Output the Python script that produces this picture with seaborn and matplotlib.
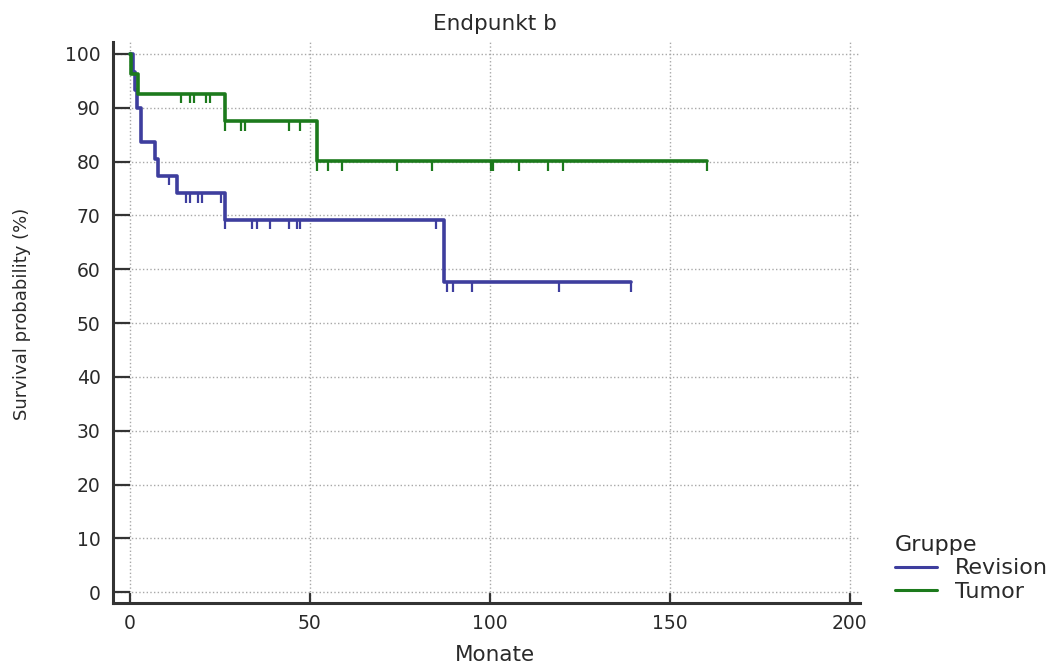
import numpy as np
import pandas as pd
import matplotlib
matplotlib.use("Agg")
import matplotlib.pyplot as plt
from matplotlib.lines import Line2D
import seaborn as sns

# Kaplan-Meier step curves (months, survival %)
rev_time = [0, 0.8, 1.3, 2.1, 3.0, 6.9, 7.9, 13.0, 26.4, 87.2, 139.1]
rev_surv = [100, 96.7, 93.3, 90.0, 83.7, 80.5, 77.4, 74.1, 69.2, 57.6, 57.6]
tum_time = [0, 0.2, 2.2, 26.4, 51.9, 160.2]
tum_surv = [100, 96.3, 92.6, 87.5, 80.1, 80.1]

# censored observations (months, survival level)
rev_cens_time = [10.9, 15.7, 16.8, 19.0, 19.9, 25.3, 26.4, 34.0, 35.2, 38.9,
                 44.2, 46.3, 47.2, 85.0, 88.2, 89.8, 95.1, 119.3, 139.1]
rev_cens_surv = [77.4, 74.1, 74.1, 74.1, 74.1, 74.1, 69.2, 69.2, 69.2, 69.2,
                 69.2, 69.2, 69.2, 69.2, 57.6, 57.6, 57.6, 57.6, 57.6]
tum_cens_time = [14.2, 16.7, 17.9, 21.1, 22.2, 26.4, 30.8, 32.0, 44.2, 47.2,
                 52.0, 55.1, 59.0, 74.1, 84.0, 100.3, 100.8, 108.2, 116.2, 120.2, 160.2]
tum_cens_surv = [92.6, 92.6, 92.6, 92.6, 92.6, 87.5, 87.5, 87.5, 87.5, 87.5,
                 80.1, 80.1, 80.1, 80.1, 80.1, 80.1, 80.1, 80.1, 80.1, 80.1, 80.1]

groups = ["Revision", "Tumor"]
colors = {"Revision": "#3e3e9e", "Tumor": "#1c7a1c"}

curves = pd.concat([
    pd.DataFrame({"Monate": rev_time, "Survival": rev_surv, "Gruppe": "Revision"}),
    pd.DataFrame({"Monate": tum_time, "Survival": tum_surv, "Gruppe": "Tumor"}),
], ignore_index=True)
censored = pd.concat([
    pd.DataFrame({"Monate": rev_cens_time, "Survival": rev_cens_surv, "Gruppe": "Revision"}),
    pd.DataFrame({"Monate": tum_cens_time, "Survival": tum_cens_surv, "Gruppe": "Tumor"}),
], ignore_index=True)

sns.set_theme(style="white")
plt.rcParams["font.family"] = ["DejaVu Sans"]
txt = "#2a2a2a"

fig = plt.figure(figsize=(10.54, 6.64), dpi=100)
ax = fig.add_axes([113 / 1054, 61 / 664, 747 / 1054, 561 / 664])

ax.grid(True, linestyle=":", color="#a8a8a8", linewidth=1.0)
ax.set_axisbelow(True)

sns.lineplot(data=curves, x="Monate", y="Survival", hue="Gruppe", palette=colors,
             estimator=None, sort=False, drawstyle="steps-post", linewidth=2.6,
             legend=False, ax=ax)
sns.scatterplot(data=censored, x="Monate", y="Survival", hue="Gruppe", palette=colors,
                marker=3, s=49, linewidth=1.6, legend=False, ax=ax)

ax.set_xlim(-4.7, 202.8)
ax.set_ylim(-2.0, 102.2)
ax.set_xticks(np.arange(0, 201, 50))
ax.set_yticks(np.arange(0, 101, 10))

for side in ["top", "right"]:
    ax.spines[side].set_visible(False)
for side in ["left", "bottom"]:
    ax.spines[side].set_linewidth(2.2)
    ax.spines[side].set_color("#333333")

ax.tick_params(axis="y", left=True, direction="in", length=12.2, width=1.6, color="#333333",
               pad=9, labelsize=13.5, labelcolor=txt)
ax.tick_params(axis="x", bottom=True, direction="in", length=7.2, width=1.6, color="#333333",
               pad=8, labelsize=13.5, labelcolor=txt)

ax.set_xlabel("Monate", fontsize=15.5, color=txt, labelpad=8)
ax.xaxis.set_label_coords(0.511, -0.075)
ax.set_ylabel("Survival probability (%)", fontsize=13, color=txt)
ax.yaxis.set_label_coords(-0.11, 0.515)
ax.set_title("Endpunkt b", fontsize=15.5, color=txt, pad=9, x=0.511)

handles = [Line2D([], [], color=colors[g], linewidth=2.2) for g in groups]
ax.legend(handles, groups, title="Gruppe", loc="upper left",
          bbox_to_anchor=(895 / 1054, (664 - 535) / 664), bbox_transform=fig.transFigure,
          frameon=False, fontsize=16, title_fontsize=16, alignment="left",
          borderpad=0, borderaxespad=0, labelspacing=0.15, handlelength=1.9,
          handletextpad=0.8, labelcolor=txt)

fig.savefig("out.png", dpi=100)
